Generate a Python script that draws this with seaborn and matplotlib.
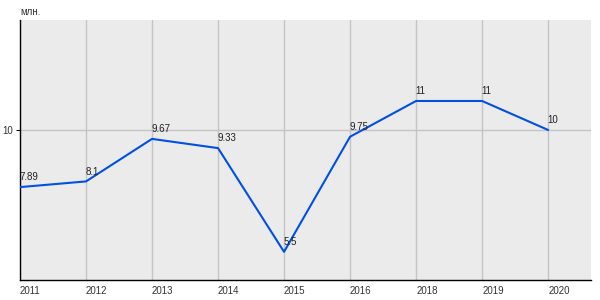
import matplotlib
matplotlib.use("Agg")
import matplotlib.pyplot as plt
import seaborn as sns
import pandas as pd

years = ["2011", "2012", "2013", "2014", "2015", "2016", "2018", "2019", "2020"]
values = [7.89, 8.1, 9.67, 9.33, 5.5, 9.75, 11.07, 11.07, 10.0]
labels = ["7.89", "8.1", "9.67", "9.33", "5.5", "9.75", "11", "11", "10"]
unit = "млн."

sns.set_theme(style="white")
plt.rcParams["font.family"] = ["Liberation Sans", "DejaVu Sans"]

fig = plt.figure(figsize=(6, 3), dpi=100)
ax = fig.add_axes([20/600, 20/300, 571/600, 260/300])
ax.set_facecolor("#EBEBEB")

df = pd.DataFrame({"year": years, "value": values})
pos = list(range(len(years)))
for p in pos:
    ax.axvline(p, color="#C4C4C4", lw=1.0, zorder=0)
ax.axhline(10, color="#C4C4C4", lw=1.0, zorder=0)

sns.lineplot(x=pos, y=df["value"], ax=ax, color="#0050E6", lw=1.5, zorder=3)

for p, v, t in zip(pos, values, labels):
    ax.annotate(t, (p, v), xytext=(-0.5, 3.5), textcoords="offset points",
                ha="left", va="bottom", fontsize=7, color="#222222", zorder=4)

ax.set_xlim(0, 8.65)
ax.set_ylim(4.46, 14.06)
ax.set_xticks(pos)
ax.set_xticklabels(years, ha="left", fontsize=7, color="#333333")
ax.set_yticks([10])
ax.set_yticklabels(["10"], fontsize=7, color="#333333")
ax.tick_params(axis="x", length=0, pad=4)
ax.tick_params(axis="y", length=3, width=0.8, color="black", pad=2, left=True)
ax.set_xlabel("")
ax.set_ylabel("")

for s in ["top", "right"]:
    ax.spines[s].set_visible(False)
for s in ["left", "bottom"]:
    ax.spines[s].set_visible(True)
    ax.spines[s].set_color("black")
    ax.spines[s].set_linewidth(1.0)

fig.text(20/600, 1 - 12/300, unit, fontsize=7, color="#333333", ha="left", va="center")

fig.savefig("out.png", dpi=100, facecolor="white")
